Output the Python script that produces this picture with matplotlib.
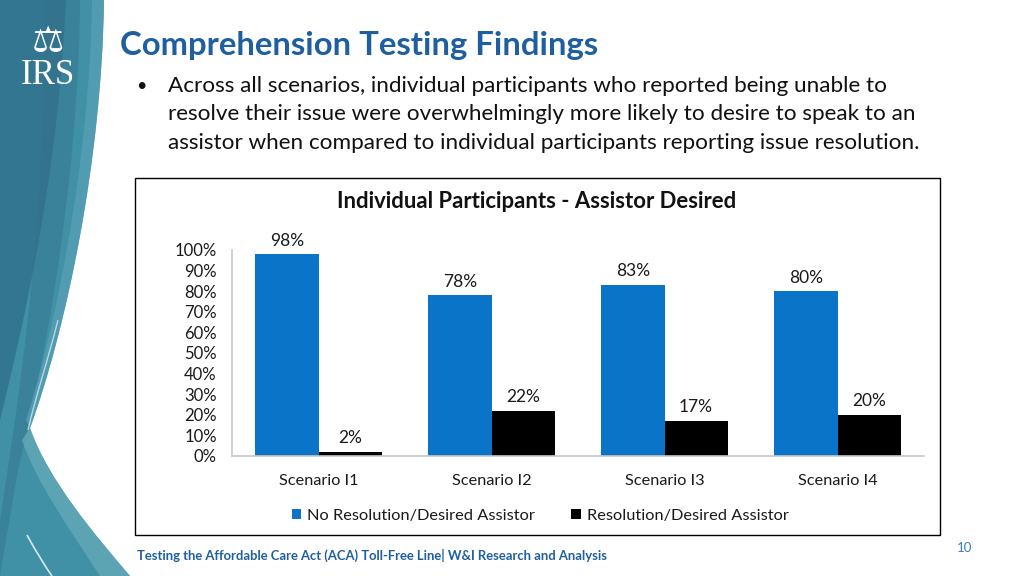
import matplotlib
matplotlib.use("Agg")
import matplotlib.pyplot as plt
from matplotlib.path import Path
from matplotlib.patches import PathPatch, Rectangle
import numpy as np

categories = ["Scenario I1", "Scenario I2", "Scenario I3", "Scenario I4"]
no_resolution = [98, 78, 83, 80]
resolution = [2, 22, 17, 20]
series_names = ["No Resolution/Desired Assistor", "Resolution/Desired Assistor"]
y_ticks = [0, 10, 20, 30, 40, 50, 60, 70, 80, 90, 100]

slide_title = "Comprehension Testing Findings"
bullet_lines = [
    "Across all scenarios, individual participants who reported being unable to",
    "resolve their issue were overwhelmingly more likely to desire to speak to an",
    "assistor when compared to individual participants reporting issue resolution.",
]
chart_title = "Individual Participants - Assistor Desired"
footer = "Testing the Affordable Care Act (ACA) Toll-Free Line| W&I Research and Analysis"
page_no = "10"

BLUE = "#0a74c8"
TITLE_BLUE = "#1f5f9f"
FONT = ["Lato", "DejaVu Sans"]
plt.rcParams["font.family"] = FONT

W, H = 1024, 576
fig = plt.figure(figsize=(W / 100, H / 100), dpi=100)
fig.patch.set_facecolor("white")

# background layer in pixel coordinates
bg = fig.add_axes([0, 0, 1, 1])
bg.set_xlim(0, W)
bg.set_ylim(H, 0)
bg.axis("off")

def bez(verts, color, alpha=1.0, z=0):
    codes = [Path.MOVETO]
    out = [verts[0]]
    for v in verts[1:]:
        out.append(v[1])
        codes.append(v[0])
    p = Path(out, codes)
    bg.add_patch(PathPatch(p, facecolor=color, edgecolor="none", alpha=alpha, zorder=z))

L, C = Path.LINETO, Path.CURVE4
# main teal shape
bez([(0, 0), (L, (104, 0)), (C, (102, 160)), (C, (66, 330)), (C, (30, 428)),
     (C, (48, 480)), (C, (95, 535)), (C, (130, 576)), (L, (0, 576)), (L, (0, 0))],
    "#4090a6", z=0)
# darker left band
bez([(0, 0), (L, (66, 0)), (C, (58, 180)), (C, (22, 330)), (C, (0, 420)), (L, (0, 0))],
    "#30708c", alpha=0.8, z=1)
# mid darker sliver
bez([(45, 0), (L, (80, 0)), (C, (78, 200)), (C, (40, 380)), (C, (18, 470)),
     (L, (0, 576)), (L, (0, 520)), (C, (15, 420)), (C, (45, 250)), (C, (45, 0))],
    "#33718c", alpha=0.45, z=1)
# lighter stripe along the right edge
bez([(30, 428), (C, (48, 480)), (C, (95, 535)), (C, (130, 576)), (L, (100, 576)),
     (C, (70, 530)), (C, (35, 480)), (C, (22, 440)), (L, (30, 428))],
    "#64a8b8", alpha=0.8, z=2)
bez([(104, 0), (C, (102, 160)), (C, (66, 330)), (C, (30, 428)), (L, (26, 420)),
     (C, (55, 330)), (C, (90, 160)), (C, (92, 0)), (L, (104, 0))],
    "#5aa2b6", alpha=0.7, z=2)
# thin white lines
bg.add_patch(PathPatch(Path([(27, 535), (38, 555), (45, 566), (52, 576)],
                            [Path.MOVETO, C, C, C]),
                       facecolor="none", edgecolor="white", lw=1.2, alpha=0.8, zorder=3))
bg.add_patch(PathPatch(Path([(58, 320), (48, 360), (36, 395), (28, 430)],
                            [Path.MOVETO, C, C, C]),
                       facecolor="none", edgecolor="white", lw=1.0, alpha=0.6, zorder=3))

# IRS logo (text)
bg.text(48, 76, "IRS", family=["Liberation Serif", "DejaVu Serif"], fontsize=25,
        color="white", ha="center", va="center", zorder=5)
bg.text(48, 42, "\u2696", family=["DejaVu Sans"], fontsize=26, color="white",
        ha="center", va="center", zorder=5)

# slide title and bullet
bg.text(120, 45, slide_title, fontsize=23.7, fontweight="bold", color=TITLE_BLUE,
        ha="left", va="center")
bg.text(136, 86, "\u2022", fontsize=13, color="#111111", ha="left", va="center")
for i, line in enumerate(bullet_lines):
    bg.text(168, 86 + 28.5 * i, line, fontsize=16.2, color="#111111", ha="left", va="center")

# chart frame
bg.add_patch(Rectangle((135, 178), 805, 357, facecolor="white", edgecolor="black", lw=1, zorder=4))
bg.text(537, 201, chart_title, fontsize=15.9, fontweight="bold", color="#111111",
        ha="center", va="center", zorder=5)

# footer
bg.text(137, 555, footer, fontsize=9.4, fontweight="bold", color=TITLE_BLUE,
        ha="left", va="center")
bg.text(965, 548, page_no, fontsize=9.5, color="#3a7bbf", ha="center", va="center")

# chart axes
ax = fig.add_axes([232 / W, 1 - 456 / H, (924 - 232) / W, (456 - 250) / H], zorder=6)
ax.patch.set_alpha(0)
x = np.arange(len(categories))
bw = 0.365
b1 = ax.bar(x - bw / 2, no_resolution, bw, color=BLUE, label=series_names[0])
b2 = ax.bar(x + bw / 2, resolution, bw, color="black", label=series_names[1])
for bars, vals in ((b1, no_resolution), (b2, resolution)):
    for r, v in zip(bars, vals):
        ax.annotate(f"{v}%", (r.get_x() + r.get_width() / 2, v), xytext=(0, 4),
                    textcoords="offset points", ha="center", va="bottom",
                    fontsize=12.5, color="#1a1a1a")
ax.set_xlim(-0.5, len(categories) - 0.5)
ax.set_ylim(0, 100)
ax.set_yticks(y_ticks)
ax.set_yticklabels([f"{t}%" for t in y_ticks], fontsize=12, color="#1a1a1a")
ax.set_xticks(x)
ax.set_xticklabels(categories, fontsize=11.7, color="#1a1a1a")
ax.tick_params(axis="both", length=0)
ax.tick_params(axis="y", pad=11)
ax.tick_params(axis="x", pad=13)
for s in ("top", "right"):
    ax.spines[s].set_visible(False)
for s in ("left", "bottom"):
    ax.spines[s].set_color("#c8c8c8")
    ax.spines[s].set_linewidth(1.2)

leg = ax.legend(loc="center", bbox_to_anchor=(540 / W, 1 - 516 / H),
                bbox_transform=fig.transFigure, ncol=2, frameon=False,
                fontsize=11.8, handlelength=0.6, handleheight=0.6, handletextpad=0.35,
                columnspacing=2.2)
for t in leg.get_texts():
    t.set_color("#1a1a1a")

fig.savefig("out.png", dpi=100, facecolor="white")
